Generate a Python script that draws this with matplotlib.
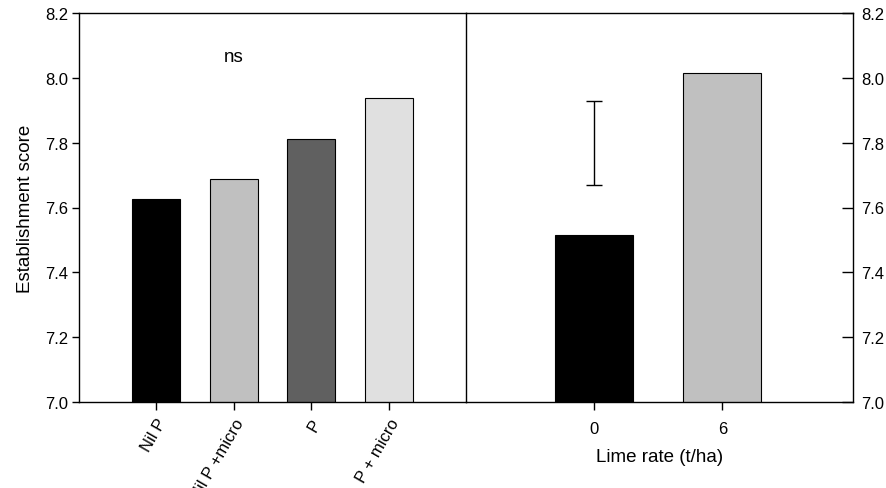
import matplotlib
matplotlib.use('Agg')
import matplotlib.pyplot as plt

plt.rcParams['font.family'] = ['Liberation Sans', 'DejaVu Sans']

# P treatment means
p_labels = ['Nil P', 'Nil P +micro', 'P', 'P + micro']
p_scores = [7.626, 7.688, 7.810, 7.938]
p_colors = ['#000000', '#c0c0c0', '#606060', '#e0e0e0']

# Lime rate means
lime_labels = ['0', '6']
lime_scores = [7.516, 8.015]
lime_colors = ['#000000', '#c0c0c0']
lsd_centre = 7.799
lsd_half = 0.130

fig = plt.figure(figsize=(8.87, 4.89), dpi=100)
ax1 = fig.add_axes([79 / 887, 1 - 403 / 489, 387 / 887, 389 / 489])
ax2 = fig.add_axes([466 / 887, 1 - 403 / 489, 387 / 887, 389 / 489])
ax2.patch.set_visible(False)

for ax in (ax1, ax2):
    ax.set_ylim(7.0, 8.2)
    ax.set_yticks([7.0, 7.2, 7.4, 7.6, 7.8, 8.0, 8.2])
    ax.set_yticklabels(['7.0', '7.2', '7.4', '7.6', '7.8', '8.0', '8.2'])
    for s in ax.spines.values():
        s.set_linewidth(1.0)
    ax.tick_params(labelsize=12, width=1.0)

# left panel
x1 = range(len(p_labels))
ax1.bar(x1, p_scores, width=0.62, color=p_colors, edgecolor='black', linewidth=0.8)
ax1.set_xlim(-1, 4)
ax1.set_xticks(list(x1))
ax1.set_xticklabels(p_labels, rotation=60, ha='right', rotation_mode='anchor')
ax1.tick_params(axis='x', direction='out', length=6, pad=4)
ax1.tick_params(axis='y', direction='out', length=5, pad=3)
ax1.set_ylabel('Establishment score', fontsize=13.5, labelpad=8)
ax1.text(1, 8.067, 'ns', ha='center', va='center', fontsize=13.5)

# right panel
x2 = range(len(lime_labels))
ax2.bar(x2, lime_scores, width=0.61, color=lime_colors, edgecolor='black', linewidth=0.8)
ax2.errorbar([0], [lsd_centre], yerr=[lsd_half], fmt='none', ecolor='black',
             elinewidth=1.0, capsize=6, capthick=1.0)
ax2.set_xlim(-1, 2.02)
ax2.set_xticks(list(x2))
ax2.set_xticklabels(lime_labels)
ax2.tick_params(axis='x', direction='out', length=6, pad=8)
ax2.yaxis.tick_right()
ax2.tick_params(axis='y', direction='in', length=8, pad=6)
ax2.spines['left'].set_visible(False)
ax2.set_xlabel('Lime rate (t/ha)', fontsize=13.5, labelpad=8)

fig.savefig('out.png', dpi=100)
